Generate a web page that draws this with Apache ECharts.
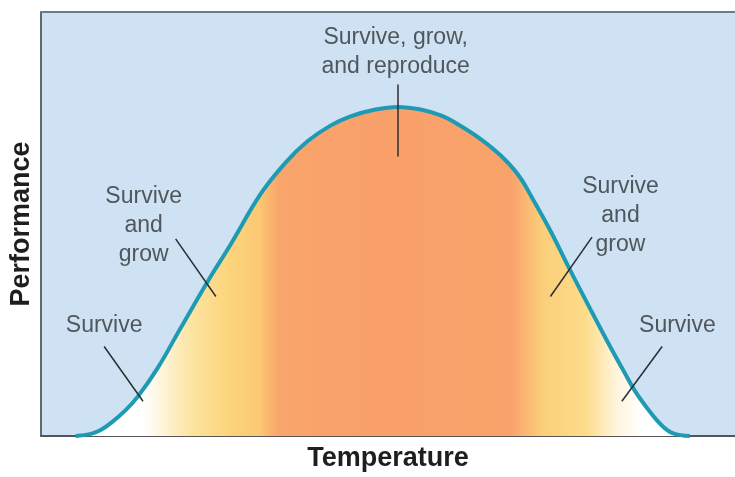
<!DOCTYPE html>
<html>
<head>
<meta charset="utf-8">
<script src="https://cdn.jsdelivr.net/npm/echarts@6/dist/echarts.min.js"></script>
<style>
  html, body { margin: 0; padding: 0; background: #fff; }
  #chart { width: 735px; height: 477px; }
</style>
</head>
<body>
<div id="chart"></div>
<script>
// curve (arbitrary units, 0-100)
const temperature = [5.0, 7.2, 8.6, 10.1, 12.2, 14.0, 16.8, 20.1, 24.0, 27.3, 31.7, 35.3, 38.4, 41.7, 44.6, 48.2, 51.4,
  54.7, 57.6, 60.0, 63.3, 66.2, 68.8, 70.9, 73.4, 76.0, 79.1, 82.0, 83.9, 85.6, 87.8, 89.5, 91.1, 93.5]
const performance = [0, 0.5, 1.4, 3.1, 6.1, 9.4, 16.0, 25.4, 36.4, 45.1, 57.2, 64.6, 69.5, 73.2, 75.4, 77.0, 77.6,
  77.0, 75.6, 73.6, 70.1, 66.2, 61.5, 55.8, 48.4, 39.9, 30.1, 21.1, 15.5, 10.6, 5.6, 2.4, 0.6, 0]

// annotation texts and where they sit (data units)
const noteTexts = ['Survive, grow,\nand reproduce', 'Survive\nand\ngrow', 'Survive', 'Survive\nand\ngrow', 'Survive']
const noteX = [51.1, 14.8, 9.1, 83.5, 91.7]
const noteY = [90.6, 49.5, 26.1, 51.9, 26.1]

// pointer lines from each note to the curve
const pointerFrom = [[51.4, 82.9], [19.4, 46.5], [9.1, 21.1], [79.4, 46.9], [89.5, 21.1]]
const pointerTo = [[51.4, 65.9], [25.2, 32.9], [14.7, 8.2], [73.4, 32.9], [83.7, 8.2]]

const chart = echarts.init(document.getElementById('chart'))

const font = '"Liberation Sans", Arial, Helvetica, sans-serif'

const options = {
  animation: false,
  backgroundColor: '#ffffff',
  grid: {
    left: 40,
    right: 0,
    top: 12,
    bottom: 39,
    show: true,
    backgroundColor: '#cee2f3',
    borderWidth: 0
  },
  xAxis: [{
    type: 'value',
    min: 0,
    max: 100,
    name: 'Temperature',
    nameLocation: 'middle',
    nameGap: 9,
    nameTextStyle: { fontFamily: font, fontSize: 27, fontWeight: 'bold', color: '#1e1e1e' },
    axisLine: { show: true, lineStyle: { color: '#555', width: 2 } },
    axisTick: { show: false },
    axisLabel: { show: false },
    splitLine: { show: false }
  }, {
    type: 'value',
    position: 'top',
    min: 0,
    max: 100,
    axisLine: { show: true, lineStyle: { color: '#6f7b82', width: 2 } },
    axisTick: { show: false },
    axisLabel: { show: false },
    splitLine: { show: false }
  }],
  yAxis: {
    type: 'value',
    min: 0,
    max: 100,
    name: 'Performance',
    nameLocation: 'middle',
    nameGap: 6,
    nameTextStyle: { fontFamily: font, fontSize: 27, fontWeight: 'bold', color: '#1e1e1e' },
    axisLine: { show: true, lineStyle: { color: '#5f6a70', width: 2 } },
    axisTick: { show: false },
    axisLabel: { show: false },
    splitLine: { show: false }
  },
  series: [{
    type: 'line',
    data: temperature.map((t, i) => [t, performance[i]]),
    smooth: 0.4,
    showSymbol: false,
    silent: true,
    lineStyle: { color: '#1e9bb3', width: 4 },
    areaStyle: {
      opacity: 1,
      color: new echarts.graphic.LinearGradient(0, 0, 1, 0, [
        { offset: 0, color: '#ffffff' },
        { offset: 0.11, color: '#ffffff' },
        { offset: 0.19, color: '#fde3a0' },
        { offset: 0.25, color: '#fcd47c' },
        { offset: 0.3, color: '#fbc874' },
        { offset: 0.33, color: '#f9a56c' },
        { offset: 0.5, color: '#f9a06a' },
        { offset: 0.71, color: '#f9a36b' },
        { offset: 0.76, color: '#fbcf7a' },
        { offset: 0.83, color: '#fddc8a' },
        { offset: 0.88, color: '#fff4dc' },
        { offset: 0.92, color: '#ffffff' },
        { offset: 1, color: '#ffffff' }
      ])
    },
    markLine: {
      silent: true,
      symbol: 'none',
      label: { show: false },
      lineStyle: { color: '#2a2e31', width: 1.5, type: 'solid' },
      data: pointerFrom.map((p, i) => [{ coord: p }, { coord: pointerTo[i] }])
    }
  }, {
    type: 'scatter',
    silent: true,
    symbolSize: 0,
    data: noteX.map((x, i) => ({ value: [x, noteY[i]], name: noteTexts[i] })),
    label: {
      show: true,
      position: 'inside',
      formatter: p => p.name,
      fontFamily: font,
      fontSize: 23,
      lineHeight: 29,
      color: '#2f3336',
      align: 'center',
      verticalAlign: 'middle'
    }
  }]
}

chart.setOption(options)
</script>
</body>
</html>
